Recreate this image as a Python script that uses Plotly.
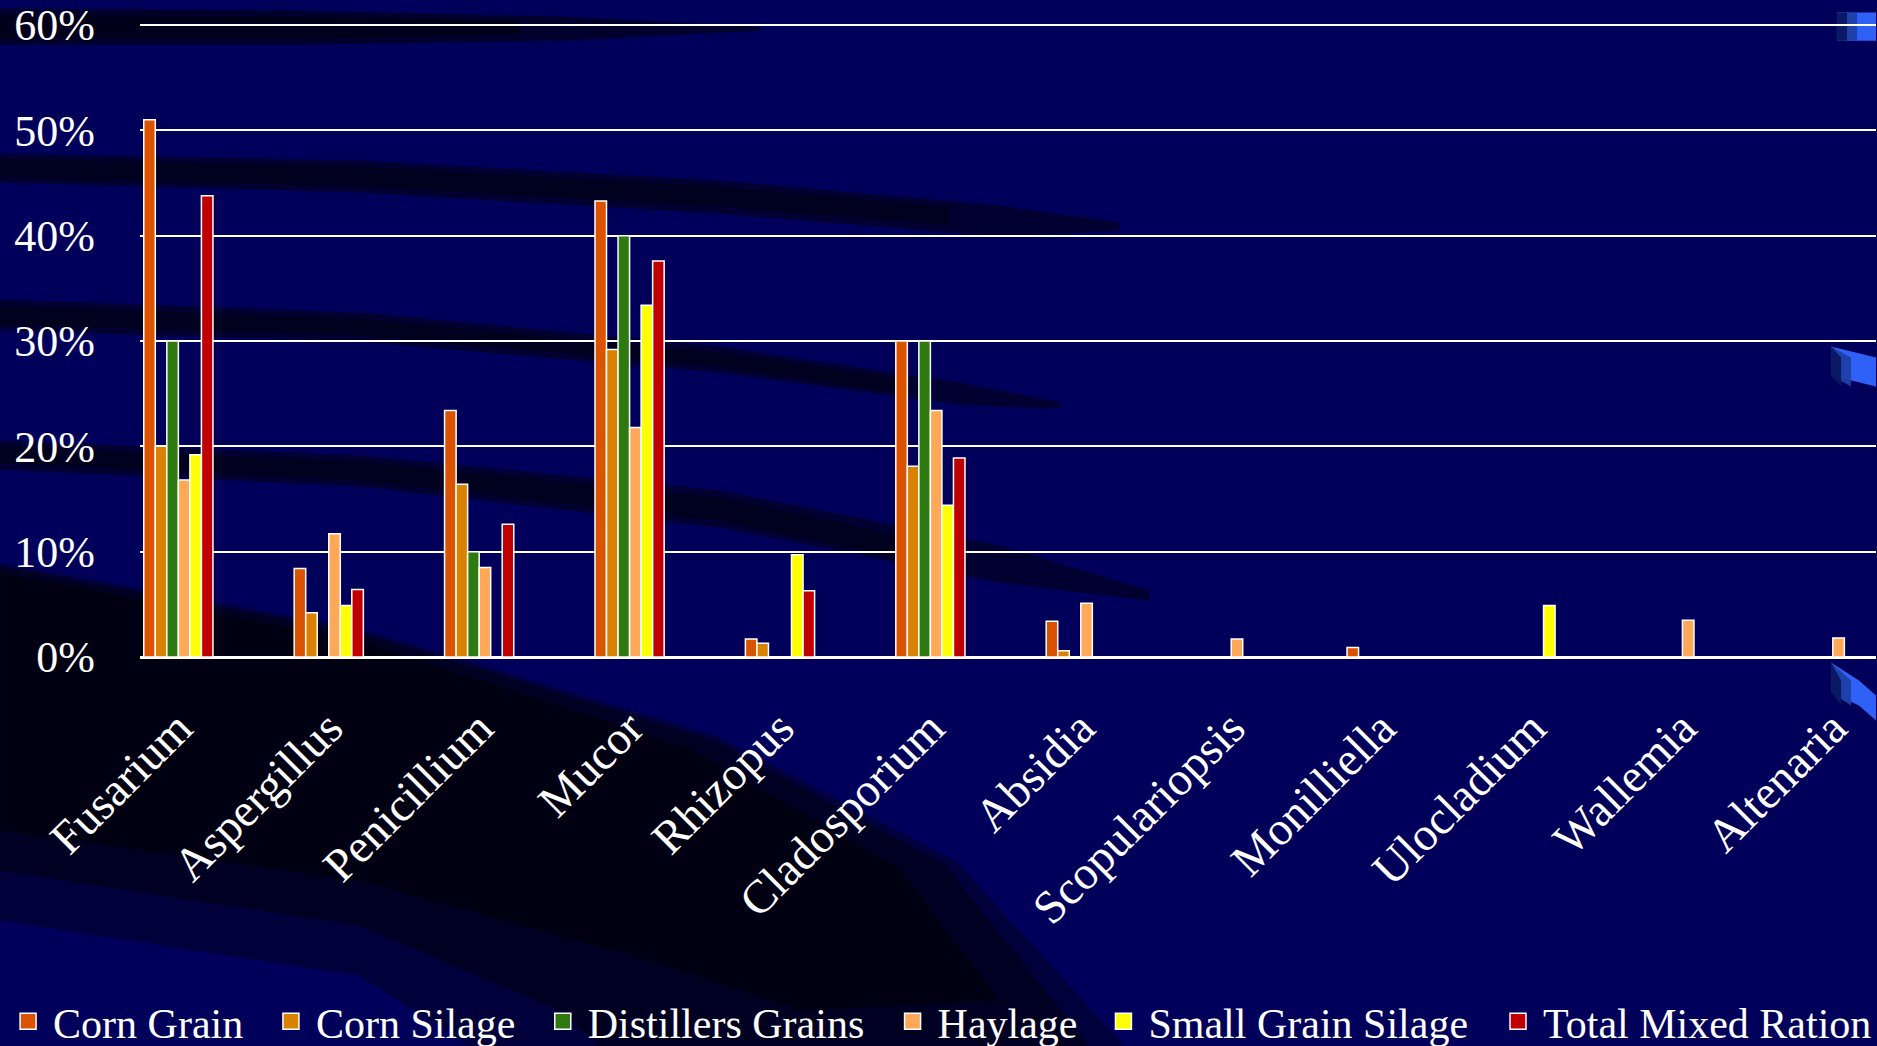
import plotly.graph_objects as go

# ---------------- data ----------------
categories = ["Fusarium", "Aspergillus", "Penicillium", "Mucor", "Rhizopus",
              "Cladosporium", "Absidia", "Scopulariopsis", "Monilliella",
              "Ulocladium", "Wallemia", "Altenaria"]

corn_grain = [51, 8.4, 23.4, 43.3, 1.7, 30, 3.4, None, 0.9, None, None, None]
corn_silage = [20, 4.2, 16.4, 29.2, 1.3, 18.1, 0.6, None, None, None, None, None]
distillers_grains = [30, None, 10, 40, None, 30, None, None, None, None, None, None]
haylage = [16.8, 11.7, 8.5, 21.8, None, 23.4, 5.1, 1.7, None, None, 3.5, 1.8]
small_grain_silage = [19.2, 4.9, None, 33.4, 9.7, 14.4, None, None, None, 4.9, None, None]
total_mixed_ration = [43.8, 6.4, 12.6, 37.6, 6.3, 18.9, None, None, None, None, None, None]

series_names = ["Corn Grain", "Corn Silage", "Distillers Grains", "Haylage",
                "Small Grain Silage", "Total Mixed Ration"]
series_values = [corn_grain, corn_silage, distillers_grains, haylage,
                 small_grain_silage, total_mixed_ration]
series_colors = ["#D95300", "#D98200", "#2E7A10", "#FFA858", "#FFFF00", "#C00000"]

y_tick_values = [0, 10, 20, 30, 40, 50, 60]
y_tick_labels = ["0%", "10%", "20%", "30%", "40%", "50%", "60%"]

# ---------------- geometry ----------------
W, VIEW_H = 1877, 1046
H = 1056                      # page height actually rendered before scaling
SY = H / VIEW_H               # picture px -> figure px (vertical)
L, R = 140, 0
T = 23.6
B = H - 656.5 * SY
PW, PH = W - L - R, H - T - B

fig = go.Figure()
legend_names = ["legend", "legend2", "legend3", "legend4", "legend5", "legend6"]
for name, vals, col, lg in zip(series_names, series_values, series_colors, legend_names):
    fig.add_trace(go.Bar(
        x=categories, y=vals, name=name, legend=lg, legendgroup=name,
        showlegend=False,
        marker=dict(color=col, line=dict(color="white", width=1.5)),
    ))
    # legend swatch (square, like the slide's legend keys)
    fig.add_trace(go.Scatter(
        x=[None], y=[None], name=name, legend=lg, legendgroup=name,
        mode="markers", showlegend=True, hoverinfo="skip",
        marker=dict(symbol="square", size=16, color=col,
                    line=dict(color="white", width=1.5)),
    ))


def px2paper(px, py):
    return (px - L) / PW, (H - B - py * SY) / PH


def path_from(points):
    segs = []
    for i, (px, py) in enumerate(points):
        x, y = px2paper(px, py)
        segs.append(("M" if i == 0 else "L") + f"{x:.4f},{y:.4f}")
    return " ".join(segs) + " Z"


def band(upper, lower):
    return upper + list(reversed(lower))


shapes = []
# dark decorative swooshes of the slide background (soft: layered)
bands = [
    (band([(0, 8), (300, 10), (560, 16), (760, 26)],
          [(0, 44), (300, 44), (560, 40), (760, 30)]), 0.5),
    (band([(0, 14), (300, 16), (520, 20)],
          [(0, 38), (300, 38), (520, 34)]), 0.4),
    (band([(0, 153), (360, 160), (720, 180), (1000, 205), (1120, 222)],
          [(0, 182), (360, 192), (720, 213), (1000, 236), (1120, 230)]), 0.45),
    (band([(0, 158), (360, 166), (720, 186), (950, 206)],
          [(0, 177), (360, 186), (720, 206), (950, 224)]), 0.35),
    (band([(0, 299), (360, 312), (720, 346), (960, 382), (1060, 402)],
          [(0, 330), (360, 341), (720, 372), (960, 404), (1060, 408)]), 0.45),
    (band([(0, 305), (360, 318), (720, 352), (900, 378)],
          [(0, 324), (360, 335), (720, 366), (900, 393)]), 0.35),
    (band([(0, 440), (360, 455), (720, 490), (1000, 545), (1150, 590)],
          [(0, 469), (360, 486), (720, 527), (1000, 582), (1150, 600)]), 0.45),
    (band([(0, 446), (360, 461), (720, 497), (950, 545)],
          [(0, 463), (360, 480), (720, 520), (950, 568)]), 0.35),
    # big dark swoosh lower-left
    (band([(0, 563), (359, 628), (718, 736), (958, 862), (1125, 1046)],
          [(0, 920), (359, 975), (470, 1046)]), 0.35),
    (band([(0, 566), (359, 632), (714, 740), (945, 864), (1090, 1046)],
          [(0, 870), (359, 925), (560, 1010), (600, 1046)]), 0.4),
    (band([(0, 572), (359, 640), (690, 748), (900, 868), (1000, 1000)],
          [(0, 830), (359, 880), (650, 960), (800, 1010)]), 0.45),
]
for pts, op in bands:
    shapes.append(dict(type="path", xref="paper", yref="paper", layer="below",
                       path=path_from(pts), fillcolor="black", opacity=op,
                       line=dict(width=0)))

# blue swooshes on the right edge
blue_parts = [
    [(1838, 12), (1877, 12), (1877, 40), (1838, 40)],
    [(1832, 346), (1877, 357), (1877, 386), (1832, 375)],
    [(1832, 662), (1860, 680), (1877, 695), (1877, 720), (1860, 705), (1832, 692)],
]
for pts in blue_parts:
    shapes.append(dict(type="path", xref="paper", yref="paper", layer="below",
                       path=path_from(pts), fillcolor="#3366FF", opacity=0.95,
                       line=dict(width=0)))
    x0 = min(p[0] for p in pts)
    for w, c in [(20, "#1E3FA8"), (10, "#0B1660")]:
        part = [(min(px, x0 + w), py) for px, py in pts]
        shapes.append(dict(type="path", xref="paper", yref="paper", layer="below",
                           path=path_from(part), fillcolor=c, opacity=0.95,
                           line=dict(width=0)))

# one legend per series, placed like the original slide's legend row
legend_left_px = [3, 266, 538, 888, 1099, 1494]
legend_y = -(1021 * SY - (H - B)) / PH
legend_layout = {}
for lg, lx in zip(legend_names, legend_left_px):
    legend_layout[lg] = dict(
        orientation="h", x=(lx - L) / PW, xanchor="left",
        y=legend_y, yanchor="middle",
        font=dict(size=42, color="white"), bgcolor="rgba(0,0,0,0)",
        itemwidth=40, itemsizing="trace",
    )

fig.update_layout(
    width=W, height=H,
    margin=dict(l=L, r=R, t=T, b=B),
    paper_bgcolor="#00005A",
    plot_bgcolor="rgba(0,0,0,0)",
    barmode="group",
    bargap=0.54,
    bargroupgap=0,
    font=dict(family="Liberation Serif, Times New Roman, serif", color="white", size=42),
    shapes=shapes,
    showlegend=True,
    xaxis=dict(
        type="category", categoryorder="array", categoryarray=categories,
        range=[-0.255, 11.287], showgrid=False, ticks="",
        tickangle=-45, tickfont=dict(size=47, color="white"),
        showline=False, zeroline=False, ticklabelstandoff=33,
    ),
    yaxis=dict(
        range=[0, 60.1], tickvals=y_tick_values, ticktext=y_tick_labels,
        showgrid=True, gridcolor="white", gridwidth=2,
        zeroline=True, zerolinecolor="white", zerolinewidth=2.5,
        tickfont=dict(size=44, color="white"), ticks="",
        ticklabelstandoff=44,
    ),
    **legend_layout,
)

post = (
    "document.documentElement.style.margin='0';"
    "document.body.style.margin='0';"
    "document.body.style.background='#00005A';"
    "document.documentElement.style.overflow='hidden';"
    "document.body.style.overflow='hidden';"
    "var d=document.querySelector('.plotly-graph-div');"
    "d.style.position='fixed';d.style.top='0px';d.style.left='0px';"
)

fig.write_html("out.html", post_script=post, config={"displayModeBar": False})
